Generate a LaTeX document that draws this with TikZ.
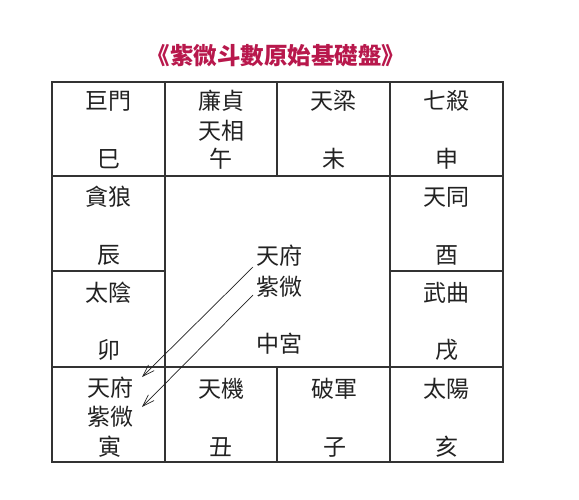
\documentclass[tikz,border=0pt]{standalone}
\usepackage{fontspec}
\newfontfamily\cjk{Noto Sans CJK TC}
\usetikzlibrary{arrows.meta}
\definecolor{titlered}{HTML}{B8184C}
\definecolor{ink}{HTML}{222222}
\definecolor{gridc}{HTML}{333333}
\tikzset{
  lbl/.style={inner sep=0pt, text=ink, font=\cjk\fontsize{23}{25}\selectfont},
  ttl/.style={inner sep=0pt, text=titlered, font=\cjk\bfseries\fontsize{23.5}{26}\selectfont},
  gridline/.style={draw=gridc, line width=1.1pt},
  arr/.style={draw=ink, line width=0.7pt, -{Straight Barb[length=12pt,width=8pt]}}
}
\begin{document}
\begin{tikzpicture}[x=1pt,y=-1pt]
\path[fill=white] (0,0) rectangle (579,500);
\useasboundingbox (0,0) rectangle (579,500);
% title
\node[ttl] (title) at (276,56) {《紫微斗數原始基礎盤》};
% grid
\draw[gridline] (52,82) rectangle (503,462);
\draw[gridline] (52,176) -- (503,176);
\draw[gridline] (52,367) -- (503,367);
\draw[gridline] (52,271) -- (165,271);
\draw[gridline] (390,271) -- (503,271);
\draw[gridline] (165,82) -- (165,462);
\draw[gridline] (390,82) -- (390,462);
\draw[gridline] (277,82) -- (277,176);
\draw[gridline] (277,367) -- (277,462);
% row 1
\node[lbl] (jm) at (108.5,101) {巨門};
\node[lbl] (si) at (108.5,159) {巳};
\node[lbl] (lz) at (221,101) {廉貞};
\node[lbl] (tx) at (221,131) {天相};
\node[lbl] (wu) at (221,159) {午};
\node[lbl] (tl) at (333.5,101) {天梁};
\node[lbl] (wei) at (333.5,159) {未};
\node[lbl] (qs) at (446.5,101) {七殺};
\node[lbl] (shen) at (446.5,159) {申};
% row 2
\node[lbl] (tlang) at (108.5,197) {貪狼};
\node[lbl] (chen) at (108.5,255) {辰};
\node[lbl] (tt) at (446.5,197) {天同};
\node[lbl] (you) at (446.5,255) {酉};
% row 3
\node[lbl] (ty) at (108.5,293) {太陰};
\node[lbl] (mao) at (108.5,350) {卯};
\node[lbl] (wq) at (446.5,293) {武曲};
\node[lbl] (xu) at (446.5,350) {戌};
% centre
\node[lbl] (cf) at (279,256) {天府};
\node[lbl] (cw) at (279,287) {紫微};
\node[lbl] (zg) at (279,344) {中宮};
% row 4
\node[lbl] (gf) at (110,388) {天府};
\node[lbl] (gw) at (110,417) {紫微};
\node[lbl] (yin) at (110,447) {寅};
\node[lbl] (tj) at (221,389) {天機};
\node[lbl] (chou) at (221,447) {丑};
\node[lbl] (pj) at (334.5,389) {破軍};
\node[lbl] (zi) at (334.5,447) {子};
\node[lbl] (tyang) at (446.5,389) {太陽};
\node[lbl] (hai) at (446.5,447) {亥};
% arrows
\draw[arr] ([shift={(-26,11)}]cf.center) -- ([shift={(32,-11)}]gf.center);
\draw[arr] ([shift={(-26,8)}]cw.center) -- ([shift={(32,-10)}]gw.center);
\end{tikzpicture}
\end{document}
